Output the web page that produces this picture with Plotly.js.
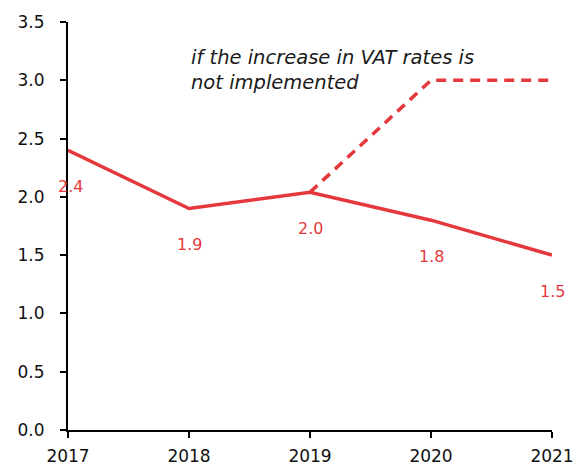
<!DOCTYPE html>
<html>
<head>
<meta charset="utf-8">
<script src="https://cdn.plot.ly/plotly-3.0.1.min.js"></script>
<style>html,body{margin:0;padding:0;background:#fff;}#chart{width:575px;height:469px;}</style>
</head>
<body>
<div id="chart"></div>
<script>
var years = [2017, 2018, 2019, 2020, 2021];
var baseValues = [2.4, 1.9, 2.04, 1.8, 1.5];
var baseLabels = ['2.4', '1.9', '2.0', '1.8', '1.5'];
var altYears = [2019, 2020, 2021];
var altValues = [2.04, 3.0, 3.0];
var yTicks = [0, 0.5, 1, 1.5, 2, 2.5, 3, 3.5];
var yTickLabels = ['0.0', '0.5', '1.0', '1.5', '2.0', '2.5', '3.0', '3.5'];
var noteText = 'if the increase in VAT rates is<br>not implemented';

var red = '#e5383d';
var font = '"DejaVu Sans", sans-serif';

var traces = [
  {x: altYears, y: altValues, mode: 'lines', line: {color: red, width: 3.5, dash: '10px,7px'}, hoverinfo: 'skip'},
  {x: years, y: baseValues, mode: 'lines', line: {color: red, width: 3.5}, hoverinfo: 'skip'}
];

var annotations = years.map(function (yr, i) {
  return {x: yr, y: baseValues[i], text: baseLabels[i], showarrow: false, yshift: -36,
          xshift: i === 0 ? 2 : 0, font: {family: font, size: 16, color: red}};
});
annotations.push({xref: 'paper', yref: 'paper', x: 0.25, y: 0.947, xanchor: 'left', yanchor: 'top',
  text: '<i>' + noteText + '</i>', align: 'left', showarrow: false,
  font: {family: font, size: 19.5, color: '#1a1a1a'}});

var layout = {
  width: 575, height: 469,
  margin: {l: 68, r: 23, t: 22, b: 39},
  paper_bgcolor: '#fff', plot_bgcolor: '#fff',
  showlegend: false,
  xaxis: {range: [2017, 2021], tickvals: years, ticktext: years.map(String), showgrid: false, zeroline: false,
    showline: true, linecolor: '#000', linewidth: 2, ticks: 'outside', ticklen: 6, tickwidth: 2, tickcolor: '#000',
    ticklabelstandoff: 4,
    tickfont: {family: font, size: 17, color: '#111'}},
  yaxis: {range: [0, 3.5], tickvals: yTicks, ticktext: yTickLabels, showgrid: false, zeroline: false,
    showline: true, linecolor: '#000', linewidth: 2, ticks: 'outside', ticklen: 6, tickwidth: 2, tickcolor: '#000',
    ticklabelstandoff: 12,
    tickfont: {family: font, size: 17, color: '#111'}},
  annotations: annotations
};

Plotly.newPlot('chart', traces, layout, {displayModeBar: false, staticPlot: true});
</script>
</body>
</html>
